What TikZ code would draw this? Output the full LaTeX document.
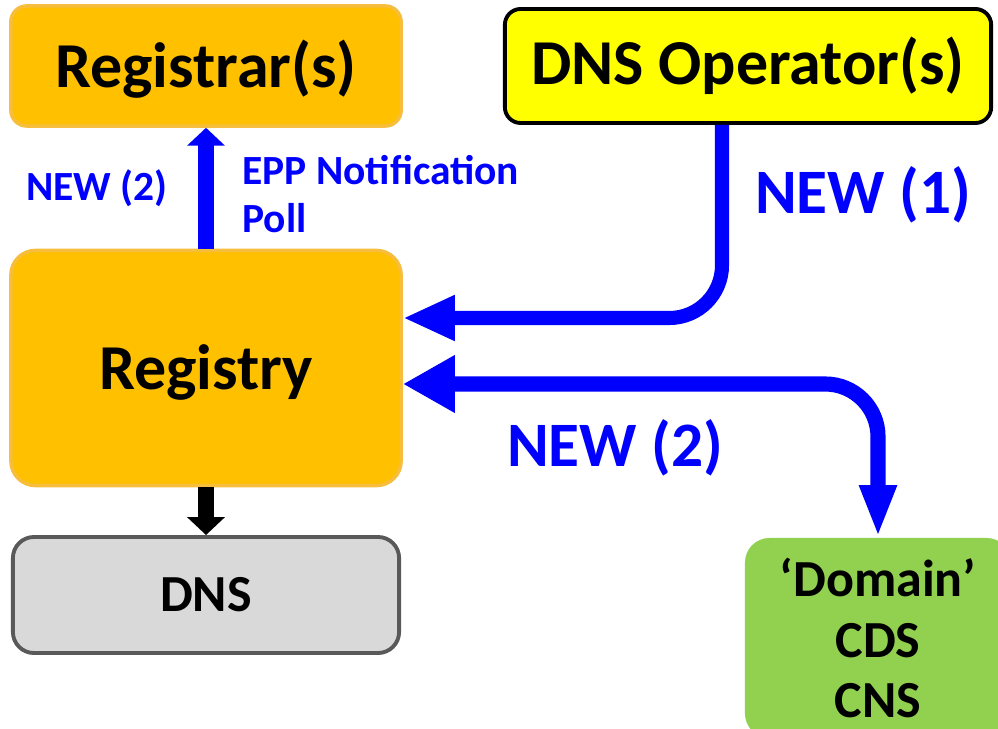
\documentclass[tikz,border=0pt]{standalone}
\usepackage{fontspec}
\setmainfont{Carlito}
\usepackage{tikz}
\usetikzlibrary{arrows.meta}
\definecolor{regorange}{HTML}{FFC000}
\definecolor{regline}{HTML}{F6BE3C}
\definecolor{opyellow}{HTML}{FFFF00}
\definecolor{dnsgray}{HTML}{D9D9D9}
\definecolor{dnsline}{HTML}{595959}
\definecolor{domgreen}{HTML}{92D050}

\begin{document}
\begin{tikzpicture}[x=0.01cm,y=-0.01cm,
  box/.style={rounded corners=4.5pt, inner sep=0pt, font=\bfseries\fontsize{18.2}{20}\selectfont},
  smallbox/.style={rounded corners=6pt, inner sep=0pt, align=center, font=\bfseries\fontsize{14.8}{17.1}\selectfont},
  flow/.style={blue, line width=4.3pt},
  newlbl/.style={blue, font=\bfseries\fontsize{18}{20}\selectfont},
  eppl/.style={blue, align=left, font=\bfseries\fontsize{11.8}{13.7}\selectfont}]
\useasboundingbox (0,0) rectangle (998,728);
\node[box, fill=regorange, draw=regline, line width=1pt, minimum width=3.9cm, minimum height=1.2cm, text depth=0.1em] (registrar) at (206,66) {Registrar(s)};
\node[box, fill=opyellow, draw=black, line width=1.1pt, minimum width=4.86cm, minimum height=1.14cm] (dnsop) at (748,66) {DNS Operator(s)};
\node[box, rounded corners=7pt, fill=regorange, draw=regline, line width=1pt, minimum width=3.9cm, minimum height=2.35cm, text depth=0.05em] (registry) at (206,368) {Registry};
\node[smallbox, fill=dnsgray, draw=dnsline, line width=1.1pt, minimum width=3.86cm, minimum height=1.16cm] (dns) at (206,595) {DNS};
\node[smallbox, rounded corners=7pt, fill=domgreen, minimum width=2.66cm, minimum height=2cm] (domain) at (878,638) {‘Domain’\\CDS\\CNS};

\draw[black, line width=4.5pt, -{Triangle[width=10.5pt,length=5.1pt]}] (registry.south) -- (dns.north);
\draw[flow, -{Triangle[width=10.5pt,length=5.1pt]}] (registry.north) -- (registrar.south);
\draw[flow, line width=4pt, rounded corners=15pt, -{Triangle[width=12pt,length=14.8pt]}] (dnsop.south -| 722,0) |- (registry.east |- 0,318);
\draw[flow, rounded corners=15pt, {Triangle[width=15.4pt,length=14.8pt]}-{Triangle[width=9.7pt,length=14.8pt]}] (registry.east |- 0,384) -| (domain.north);

\node[eppl] (newtwo) at (97,188) {NEW (2)};
\node[eppl, anchor=west] (epp) at (230,194) {EPP Notification\\Poll};
\node[newlbl] (newone) at (863,195) {NEW (1)};
\node[newlbl] (newtwobig) at (615,448) {NEW (2)};
\end{tikzpicture}
\end{document}
